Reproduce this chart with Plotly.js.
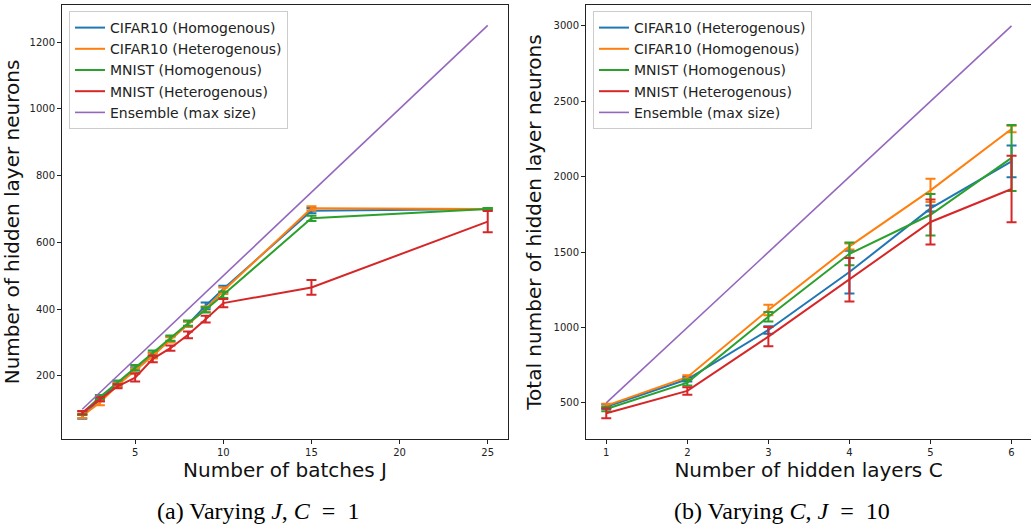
<!DOCTYPE html>
<html><head><meta charset="utf-8">
<script src="https://cdn.plot.ly/plotly-3.0.1.min.js"></script>
<style>body{margin:0;background:#fff}#c{width:1031px;height:525px}</style>
</head><body><div id="c"></div>
<script>
// Left panel: varying J (C = 1)
const batchesJ = [2,3,4,5,6,7,8,9,10,15,25];
const leftCifarHomo = [78,130,175,218,262,310,355,410,460,695,700];
const leftCifarHomoErr = [6,6,6,8,8,8,8,10,10,8,3];
const leftCifarHetero = [80,120,172,215,260,308,355,400,455,702,700];
const leftCifarHeteroErr = [6,8,6,8,8,8,8,8,10,6,3];
const leftMnistHomo = [88,137,180,225,268,313,358,398,443,672,700];
const leftMnistHomoErr = [5,6,6,8,8,8,8,8,10,8,3];
const leftMnistHetero = [90,130,169,195,251,283,323,370,418,465,662];
const leftMnistHeteroErr = [5,6,6,12,10,8,10,10,12,22,32];
const leftEnsemble = [100,150,200,250,300,350,400,450,500,750,1250];

// Right panel: varying C (J = 10)
const layersC = [1,2,3,4,5,6];
const rightCifarHetero = [475,657,984,1368,1790,2102];
const rightCifarHeteroErr = [15,15,25,142,20,106];
const rightCifarHomo = [482,671,1117,1538,1910,2317];
const rightCifarHomoErr = [12,12,35,20,77,22];
const rightMnistHomo = [460,635,1072,1489,1748,2125];
const rightMnistHomoErr = [15,20,31,75,138,219];
const rightMnistHetero = [432,580,940,1317,1700,1919];
const rightMnistHeteroErr = [33,25,64,145,150,221];
const rightEnsemble = [500,1000,1500,2000,2500,3000];

const C = {blue:'#1f77b4', orange:'#ff7f0e', green:'#2ca02c', red:'#d62728', purple:'#9467bd'};

function tr(x, y, err, name, color, xa, ya, leg) {
  const t = {x:x, y:y, name:name, type:'scatter', mode:'lines', xaxis:xa, yaxis:ya, legend:leg,
    line:{color:color, width:2}};
  if (err) t.error_y = {type:'data', array:err, visible:true, color:color, thickness:2, width:5};
  return t;
}

const data = [
  tr(batchesJ, leftCifarHomo, leftCifarHomoErr, 'CIFAR10 (Homogenous)', C.blue, 'x', 'y', 'legend'),
  tr(batchesJ, leftCifarHetero, leftCifarHeteroErr, 'CIFAR10 (Heterogenous)', C.orange, 'x', 'y', 'legend'),
  tr(batchesJ, leftMnistHomo, leftMnistHomoErr, 'MNIST (Homogenous)', C.green, 'x', 'y', 'legend'),
  tr(batchesJ, leftMnistHetero, leftMnistHeteroErr, 'MNIST (Heterogenous)', C.red, 'x', 'y', 'legend'),
  tr(batchesJ, leftEnsemble, null, 'Ensemble (max size)', C.purple, 'x', 'y', 'legend'),
  tr(layersC, rightCifarHetero, rightCifarHeteroErr, 'CIFAR10 (Heterogenous)', C.blue, 'x2', 'y2', 'legend2'),
  tr(layersC, rightCifarHomo, rightCifarHomoErr, 'CIFAR10 (Homogenous)', C.orange, 'x2', 'y2', 'legend2'),
  tr(layersC, rightMnistHomo, rightMnistHomoErr, 'MNIST (Homogenous)', C.green, 'x2', 'y2', 'legend2'),
  tr(layersC, rightMnistHetero, rightMnistHeteroErr, 'MNIST (Heterogenous)', C.red, 'x2', 'y2', 'legend2'),
  tr(layersC, rightEnsemble, null, 'Ensemble (max size)', C.purple, 'x2', 'y2', 'legend2')
];
data[4].line.width = 1.6; data[9].line.width = 1.6;

const W = 1031, H = 525;
const tickFont = {family:'DejaVu Sans', size:10, color:'#222'};
const titleFont = {family:'DejaVu Sans', size:20, color:'#111'};
const axBase = {showline:true, mirror:true, linecolor:'#222', linewidth:1, showgrid:false, zeroline:false,
  ticks:'outside', ticklen:4, tickcolor:'#222', tickfont:tickFont, automargin:false};
const yDom = [1-439/H, 1-5/H];
const legFont = {family:'DejaVu Sans', size:14, color:'#222'};

const layout = {
  width:W, height:H, margin:{l:0, r:0, t:0, b:0}, paper_bgcolor:'#fff', plot_bgcolor:'#fff',
  font:{family:'DejaVu Sans'},
  xaxis: Object.assign({}, axBase, {domain:[62/W, 508/W], range:[0.85, 26.15], tickvals:[5,10,15,20,25],
    title:{text:'Number of batches J', font:titleFont, standoff:2}}),
  yaxis: Object.assign({}, axBase, {domain:yDom, range:[11, 1311], tickvals:[200,400,600,800,1000,1200],
    title:{text:'Number of hidden layer neurons', font:titleFont, standoff:6}}),
  xaxis2: Object.assign({}, axBase, {anchor:'y2', domain:[586/W, 1], range:[0.75, 6.24], tickvals:[1,2,3,4,5,6],
    title:{text:'Number of hidden layers C', font:titleFont, standoff:2}}),
  yaxis2: Object.assign({}, axBase, {anchor:'x2', domain:yDom, range:[261, 3139], tickvals:[500,1000,1500,2000,2500,3000],
    title:{text:'Total number of hidden layer neurons', font:titleFont, standoff:6}}),
  legend: {x:69/W, y:1-11/H, xanchor:'left', yanchor:'top', bgcolor:'rgba(255,255,255,0.85)', bordercolor:'#ccc', borderwidth:1,
    font:legFont, tracegroupgap:0, itemwidth:30},
  legend2: {x:593/W, y:1-11/H, xanchor:'left', yanchor:'top', bgcolor:'rgba(255,255,255,0.85)', bordercolor:'#ccc', borderwidth:1,
    font:legFont, tracegroupgap:0, itemwidth:30},
  showlegend:true,
  annotations:[
    {text:'(a) Varying <i>J</i>, <i>C</i>\u2002=\u20021', xref:'paper', yref:'paper', x:258/W, y:1-511/H, showarrow:false,
      xanchor:'center', yanchor:'middle', font:{family:'Liberation Serif', size:24, color:'#000'}},
    {text:'(b) Varying <i>C</i>, <i>J</i>\u2002=\u200210', xref:'paper', yref:'paper', x:782/W, y:1-511/H, showarrow:false,
      xanchor:'center', yanchor:'middle', font:{family:'Liberation Serif', size:24, color:'#000'}}
  ]
};

Plotly.newPlot('c', data, layout, {staticPlot:true, displayModeBar:false});
</script>
</body></html>
